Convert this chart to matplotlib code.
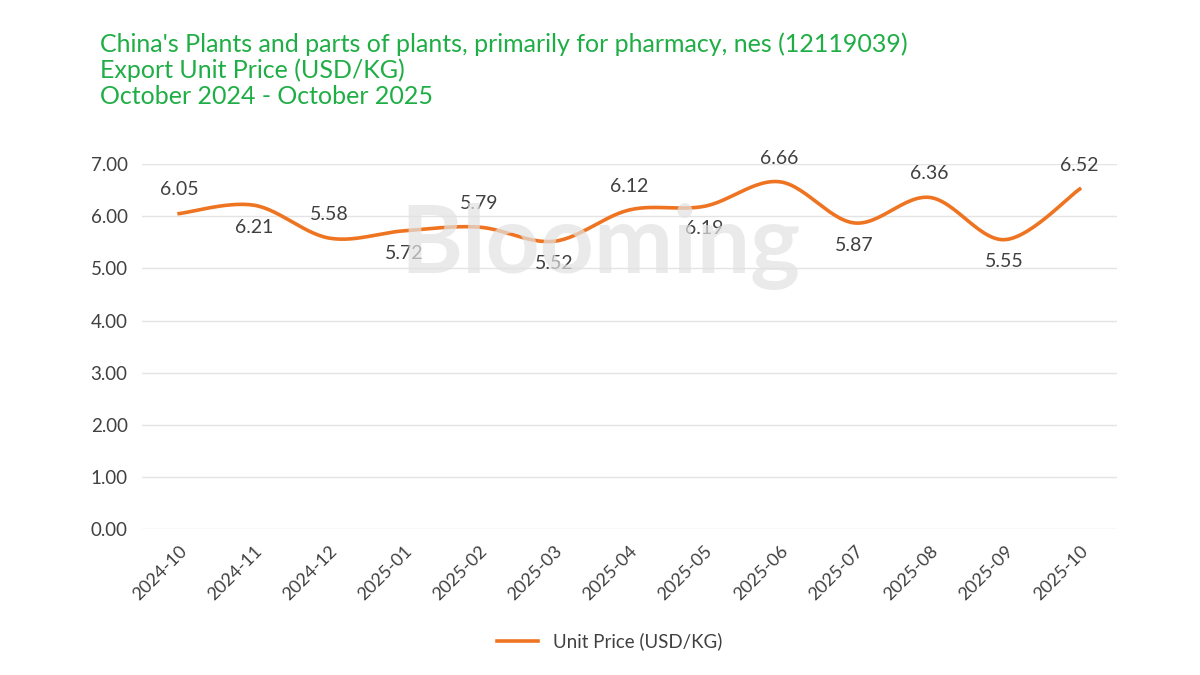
from matplotlib import pyplot as plt
import numpy as np

months = ["2024-10", "2024-11", "2024-12", "2025-01", "2025-02", "2025-03", "2025-04",
          "2025-05", "2025-06", "2025-07", "2025-08", "2025-09", "2025-10"]
prices = [6.05, 6.21, 5.58, 5.72, 5.79, 5.52, 6.12, 6.19, 6.66, 5.87, 6.36, 5.55, 6.52]
yticks = [0, 1, 2, 3, 4, 5, 6, 7]

plt.rcParams["font.family"] = ["Lato", "DejaVu Sans"]
GREEN = "#1fae45"
ORANGE = "#ee7422"
TEXT = "#404040"


def smooth(xs, ys, n=30):
    # catmull-rom style curve through the points
    xs = np.asarray(xs, float)
    ys = np.asarray(ys, float)
    px = np.concatenate([[xs[0]], xs, [xs[-1]]])
    py = np.concatenate([[ys[0]], ys, [ys[-1]]])
    out_x, out_y = [], []
    for i in range(1, len(px) - 2):
        t = np.linspace(0, 1, n)
        for arr, out in ((px, out_x), (py, out_y)):
            p0, p1, p2, p3 = arr[i - 1], arr[i], arr[i + 1], arr[i + 2]
            m1 = (p2 - p0) / 2
            m2 = (p3 - p1) / 2
            h00 = 2 * t**3 - 3 * t**2 + 1
            h10 = t**3 - 2 * t**2 + t
            h01 = -2 * t**3 + 3 * t**2
            h11 = t**3 - t**2
            out.extend(h00 * p1 + h10 * m1 + h01 * p2 + h11 * m2)
    return np.array(out_x), np.array(out_y)


fig = plt.figure(figsize=(12, 6.75), dpi=100)
ax = fig.add_axes([0.118, 0.216, 0.813, 0.541])

x = np.arange(len(months))
sx, sy = smooth(x, prices)
ax.plot(sx, sy, color=ORANGE, linewidth=2.6, label="Unit Price (USD/KG)", zorder=3)

for i, v in enumerate(prices):
    dy = 17 if i % 2 == 0 else -16
    ax.annotate(f"{v:.2f}", (i, v), xytext=(0, dy), textcoords="offset points",
                ha="center", va="center", fontsize=14, color=TEXT, zorder=4)

# watermark
fig.text(0.5, 0.635, "Blooming", ha="center", va="center",
         fontsize=68, fontweight="bold", color="#e2e2e2", alpha=0.7, zorder=1)

ax.set_xlim(-0.5, len(months) - 0.5)
ax.set_ylim(0, 7)
ax.set_yticks(yticks)
ax.set_yticklabels([f"{t:.2f}" for t in yticks], fontsize=13.5, color=TEXT)
ax.set_xticks(x)
ax.set_xticklabels(months, rotation=45, ha="right", rotation_mode="anchor",
                   fontsize=13, color=TEXT)
ax.tick_params(length=0, pad=10)
ax.grid(axis="y", color="#e4e4e4", linewidth=1)
ax.set_axisbelow(True)
for s in ax.spines.values():
    s.set_visible(False)

fig.text(0.083, 0.935, "China's Plants and parts of plants, primarily for pharmacy, nes (12119039)",
         fontsize=18, color=GREEN, va="center")
fig.text(0.083, 0.896, "Export Unit Price (USD/KG)", fontsize=18, color=GREEN, va="center")
fig.text(0.083, 0.857, "October 2024 - October 2025", fontsize=18, color=GREEN, va="center")

fig.legend(loc="center", bbox_to_anchor=(0.508, 0.05), frameon=False, fontsize=13.5,
           labelcolor=TEXT, handlelength=2.2)

plt.savefig("out.png")
